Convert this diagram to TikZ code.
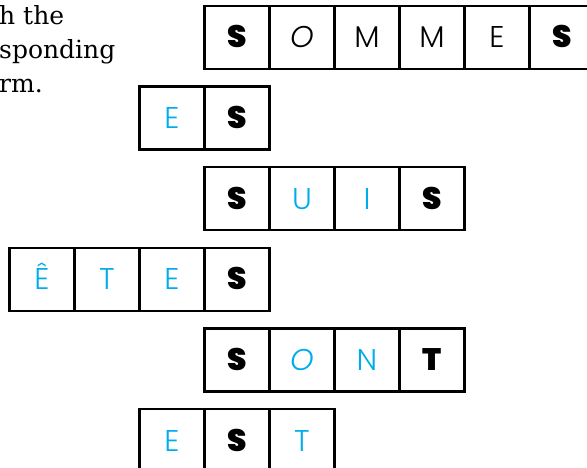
\documentclass[tikz,border=0pt]{standalone}
\usepackage{fontspec}
\usetikzlibrary{positioning}
\setmainfont{DejaVu Serif}
\newfontfamily\heavyfont{Poppins Black}
\newfontfamily\thinfont{Poppins Light}
\definecolor{pencyan}{RGB}{0,172,236}
\tikzset{cell/.style={draw,line width=2.4pt,minimum width=65pt,minimum height=63pt,
  inner sep=0pt,outer sep=0pt,text height=21pt,text depth=0pt},
  bold/.style={cell,font=\heavyfont\fontsize{31}{31}\selectfont},
  ink/.style={cell,font=\thinfont\fontsize{30}{30}\selectfont},
  pen/.style={ink,text=pencyan},
  prose/.style={anchor=base west,inner sep=0pt,font=\fontsize{25}{34}\selectfont}}

\begin{document}
\begin{tikzpicture}[x=1pt,y=-1pt,node distance=0pt]
\clip (0,0) rectangle (587,468);
% instruction text, cut off at the left
\node[prose] (line1) at (-1,25) {h the};
\node[prose] (line2) at (-1,59) {sponding};
\node[prose] (line3) at (-1,93) {rm.};
% SOMMES
\node[bold,anchor=north west] (sommes1) at (204.5,6) {S};
\node[ink,right=of sommes1] (sommes2) {\itshape O};
\node[ink,right=of sommes2] (sommes3) {M};
\node[ink,right=of sommes3] (sommes4) {M};
\node[ink,right=of sommes4] (sommes5) {E};
\node[bold,right=of sommes5] (sommes6) {S};
% ES
\node[bold,anchor=north west] (es2) at (204.5,86.6) {S};
\node[pen,left=of es2] (es1) {E};
% SUIS
\node[bold,anchor=north west] (suis1) at (204.5,167.2) {S};
\node[pen,right=of suis1] (suis2) {U};
\node[pen,right=of suis2] (suis3) {I};
\node[bold,right=of suis3] (suis4) {S};
% ETES
\node[bold,anchor=north west] (etes4) at (204.5,247.8) {S};
\node[pen,left=of etes4] (etes3) {E};
\node[pen,left=of etes3] (etes2) {T};
\node[pen,left=of etes2] (etes1) {Ê};
% SONT
\node[bold,anchor=north west] (sont1) at (204.5,328.4) {S};
\node[pen,right=of sont1] (sont2) {\itshape O};
\node[pen,right=of sont2] (sont3) {N};
\node[bold,right=of sont3] (sont4) {T};
% EST
\node[bold,anchor=north west] (est2) at (204.5,409) {S};
\node[pen,left=of est2] (est1) {E};
\node[pen,right=of est2] (est3) {T};
\end{tikzpicture}
\end{document}
